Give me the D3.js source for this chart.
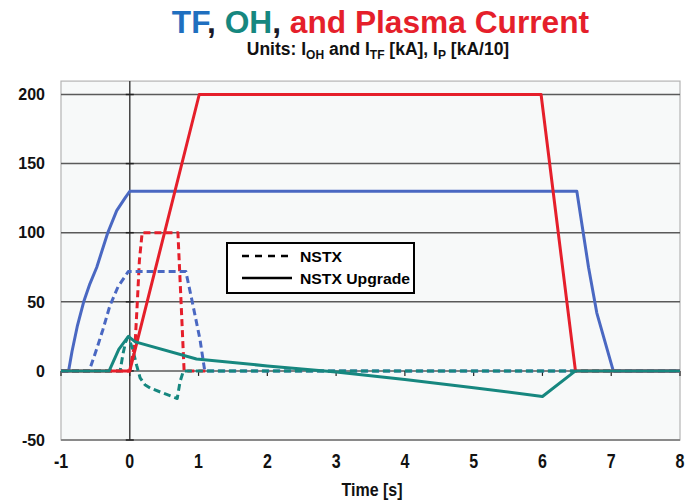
<!DOCTYPE html>
<html><head><meta charset="utf-8">
<script src="https://cdn.jsdelivr.net/npm/d3@7"></script>
<style>body{margin:0;background:#fff;} text{font-family:"Liberation Sans",Arial,sans-serif;font-weight:bold;}</style>
</head><body><svg id="c" width="700" height="502"></svg>
<script>
const xTicks = [-1,0,1,2,3,4,5,6,7,8];
const yTicks = [-50,0,50,100,150,200];
const seriesNames = ["TF NSTX Upgrade","TF NSTX","OH NSTX Upgrade","OH NSTX","Ip NSTX Upgrade","Ip NSTX"];
const tfUpgrade = [[-1,0],[-0.89,0],[-0.84,14],[-0.76,33],[-0.67,50],[-0.58,63],[-0.48,75],[-0.32,100],[-0.19,116],[-0.07,125],[0,130],[6.5,130],[6.67,75],[6.79,42],[7.03,0],[8,0]];
const tfNstx = [[-1,0],[-0.59,0],[-0.48,16],[-0.39,30],[-0.29,47],[-0.17,61],[-0.02,72],[0.815,72],[0.9,52],[1.02,23],[1.09,0],[8,0]];
const ohUpgrade = [[-1,0],[-0.3,0],[-0.16,15.6],[-0.02,25],[0.08,21],[0.97,8.6],[2,3.6],[3,-0.8],[4,-6.3],[5,-12.2],[6,-18.5],[6.48,0],[8,0]];
const ohNstx = [[-1,0],[-0.14,0],[-0.1,12],[-0.06,21],[-0.03,24],[0,22],[0.05,14],[0.1,4],[0.15,-5],[0.22,-10],[0.3,-12.5],[0.69,-20],[0.73,-8],[0.78,0],[8,0]];
const ipUpgrade = [[-1,0],[0,0],[1.01,200],[5.98,200],[6.48,0],[8,0]];
const ipNstx = [[-1,0],[0,0],[0.08,22],[0.11,50],[0.14,80],[0.18,100],[0.7,100],[0.75,45],[0.79,0],[1.1,0]];
const legendLabels = ["NSTX","NSTX Upgrade"];

const BLUE="#4a68c2", TEAL="#16877f", RED="#e51f2b";
const svg = d3.select("#c");
const x = d3.scaleLinear().domain([-1,8]).range([61,680]);
const y = d3.scaleLinear().domain([-50,200]).range([440,94.5]);
const yTop = y(209.7);

svg.append("defs").append("clipPath").attr("id","clip").append("rect")
  .attr("x",x(-1)).attr("y",yTop).attr("width",x(8)-x(-1)).attr("height",y(-50)-yTop);

svg.append("rect").attr("x",x(-1)).attr("y",yTop).attr("width",x(8)-x(-1)).attr("height",y(-50)-yTop)
  .attr("fill","#f7f9f9").attr("stroke","#b4b4b4").attr("stroke-width",1.2);

// grid
svg.selectAll(".g").data(yTicks.filter(d=>d>-50)).enter().append("line")
  .attr("x1",x(-1)).attr("x2",x(8)).attr("y1",d=>y(d)).attr("y2",d=>y(d))
  .attr("stroke","#5a5a5a").attr("stroke-width",1.5);
svg.append("line").attr("x1",x(-1)).attr("x2",x(8)).attr("y1",y(-50)).attr("y2",y(-50))
  .attr("stroke","#8a8a8a").attr("stroke-width",2);
svg.append("line").attr("x1",x(0)).attr("x2",x(0)).attr("y1",yTop).attr("y2",y(-50))
  .attr("stroke","#444").attr("stroke-width",1.5);
// ticks
svg.selectAll(".xt").data(xTicks).enter().append("line")
  .attr("x1",d=>x(d)).attr("x2",d=>x(d)).attr("y1",y(0)).attr("y2",y(0)+5)
  .attr("stroke","#222").attr("stroke-width",1.2);
svg.selectAll(".yt").data(yTicks).enter().append("line")
  .attr("x1",x(0)-4).attr("x2",x(0)+4).attr("y1",d=>y(d)).attr("y2",d=>y(d))
  .attr("stroke","#222").attr("stroke-width",1.5);

const line = d3.line().x(d=>x(d[0])).y(d=>y(d[1]));
const g = svg.append("g").attr("clip-path","url(#clip)");
const draw = (data,color,dashed)=>g.append("path").datum(data).attr("d",line)
  .attr("fill","none").attr("stroke",color).attr("stroke-width",3)
  .attr("stroke-linejoin","round").attr("stroke-dasharray",dashed?"7,4":null);
draw(ipNstx,RED,true);
draw(tfNstx,BLUE,true);
draw(ohNstx,TEAL,true);
draw(tfUpgrade,BLUE,false);
draw(ipUpgrade,RED,false);
draw(ohUpgrade,TEAL,false);

// axis labels
svg.selectAll(".xl").data(xTicks).enter().append("text")
  .attr("transform",d=>`translate(${x(d)},468) scale(1,1.3)`)
  .attr("text-anchor","middle").attr("font-size",16).attr("fill","#111").text(d=>d);
svg.selectAll(".yl").data(yTicks).enter().append("text")
  .attr("x",45).attr("y",d=>y(d)).attr("dy","0.36em")
  .attr("text-anchor","end").attr("font-size",16).attr("fill","#111").text(d=>d);
svg.append("text").attr("transform","translate(372,496) scale(1,1.15)")
  .attr("text-anchor","middle").attr("font-size",16).attr("fill","#111").text("Time [s]");

// title
const t = svg.append("text").attr("x",380.5).attr("y",33).attr("text-anchor","middle").attr("font-size",31.7);
[["TF","#1f6fbf"],[", ","#1a1a2a"],["OH",TEAL],[", ","#1a1a2a"],["and Plasma Current",RED]]
  .forEach(([s,c])=>t.append("tspan").attr("fill",c).text(s));
const st = svg.append("text").attr("x",378).attr("y",55).attr("text-anchor","middle").attr("font-size",17.5).attr("fill","#111");
st.append("tspan").text("Units: I");
st.append("tspan").attr("font-size",12).attr("dy",4).text("OH");
st.append("tspan").attr("dy",-4).text(" and I");
st.append("tspan").attr("font-size",12).attr("dy",4).text("TF");
st.append("tspan").attr("dy",-4).text(" [kA], I");
st.append("tspan").attr("font-size",12).attr("dy",4).text("P");
st.append("tspan").attr("dy",-4).text(" [kA/10]");

// legend
const lg = svg.append("g");
lg.append("rect").attr("x",227).attr("y",243).attr("width",187).attr("height",50)
  .attr("fill","#fff").attr("stroke","#000").attr("stroke-width",2);
legendLabels.forEach((lab,i)=>{
  const yy = 256 + i*22;
  lg.append("line").attr("x1",242).attr("x2",292).attr("y1",yy).attr("y2",yy)
    .attr("stroke","#000").attr("stroke-width",2.5).attr("stroke-dasharray",i===0?"7,6":null);
  lg.append("text").attr("x",300).attr("y",yy+5.5).attr("font-size",14.5).attr("fill","#000")
    .attr("textLength",i===0?42:110).attr("lengthAdjust","spacingAndGlyphs").text(lab);
});
</script></body></html>
